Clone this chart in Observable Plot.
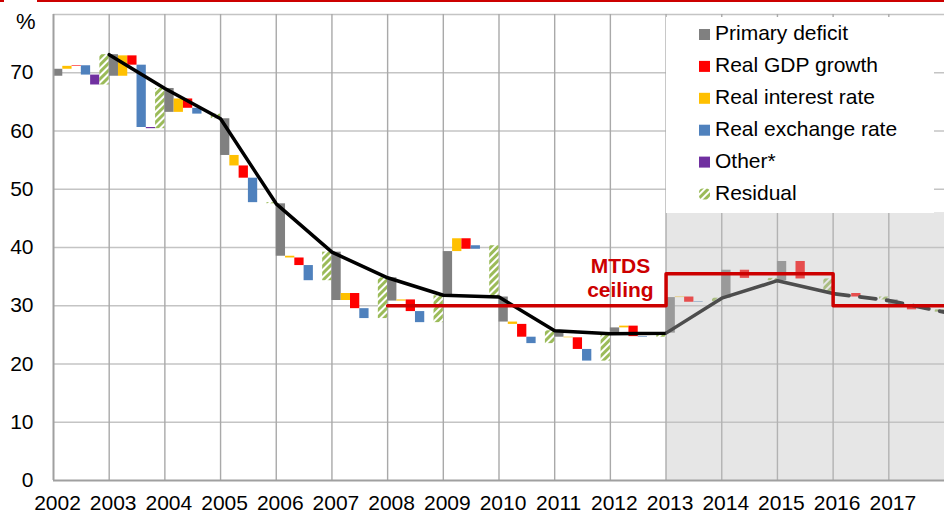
<!DOCTYPE html>
<html><head><meta charset="utf-8">
<script src="https://cdn.jsdelivr.net/npm/d3@7"></script>
<script src="https://cdn.jsdelivr.net/npm/@observablehq/plot@0.6"></script>
<style>
body{margin:0;background:#fff;font-family:"Liberation Sans",Arial,sans-serif;}
#wrap{position:relative;width:944px;height:513px;overflow:hidden;background:#fff;}
#topline{position:absolute;left:37px;top:0;width:907px;height:2px;background:#cc0000;}
#topline2{position:absolute;left:0;top:0;width:4px;height:2px;background:#cc0000;}
#pct{position:absolute;left:16px;top:9px;font-size:22px;color:#000;}
</style></head><body>
<div id="wrap"><div id="topline"></div><div id="topline2"></div><div id="pct">%</div></div>
<script>
// ---- data ----
const years = [2002,2003,2004,2005,2006,2007,2008,2009,2010,2011,2012,2013,2014,2015,2016,2017];
const barStart       = [69.4,73.1,67.3,62.1,47.5,39.2,34.8,31.7,31.5,25.7,25.2,25.3,31.3,34.3,32.1,31.0];
const primaryDeficit = [1.2,-3.7,-4.1,-6.3,-9.0,-8.3,-4.0,7.6,-4.3,-1.1,1.0,6.1,4.8,3.3,0,-0.8];
const realInterest   = [0.5,3.5,2.3,-1.8,-0.3,1.2,0.2,2.2,-0.4,-0.1,0.3,0.1,0,0,0,0];
const realGDP        = [0.1,-1.6,-1.6,-2.1,-1.3,-2.6,-2.0,-1.8,-2.2,-2.0,-1.8,-0.9,-1.4,-3.0,-0.6,-0.9];
const realFX         = [-1.6,-10.7,-1.0,-4.2,-2.6,-1.7,-1.9,0.6,-1.1,-2.0,-0.1,0.1,0,0,0,0];
const other          = [-1.7,-0.2,0,0,0,0,0,0,0,0,0,0,0,0,0,0];
const residual       = [5.2,6.9,-0.8,-0.2,4.9,7.0,4.6,-8.8,2.2,4.6,0.7,0.6,-0.4,-2.5,-0.5,-0.4];

const debtYears  = [2003,2004,2005,2006,2007,2008,2009,2010,2011,2012,2013,2014,2015,2016];
const debtValues = [73.1,67.3,62.1,47.5,39.2,34.8,31.8,31.5,25.7,25.2,25.3,31.3,34.3,32.1];
const projYears  = [2016,2017,2018];
const projValues = [32.1,30.9,28.9];

const mtdsYears  = [2008,2013,2016,2018];
const mtdsValues = [30,35.5,30,30];
const mtdsLabel  = [{year:2012.18, value:34.9, text:"MTDS\nceiling"}];
const shaded     = [{from:2013, to:2018, top:46}];

const yTicks = [0,10,20,30,40,50,60,70];
const gridY  = [10,20,30,40,50,60,70,80];
const gridX  = [2003,2004,2005,2006,2007,2008,2009,2010,2011,2012,2013,2014,2015,2016,2017];

const seriesNames  = ["Primary deficit","Real interest rate","Real GDP growth","Real exchange rate","Other*","Residual"];
const seriesColors = ["#808080","#ffc000","#ff0000","#4f81bd","#7030a0","url(#hatch)"];
const legendOrder  = [0,2,1,3,4,5];

// ---- build waterfall table ----
const seriesVals = [primaryDeficit, realInterest, realGDP, realFX, other, residual];
const bars = [];
years.forEach((yr, i) => {
  let level = barStart[i];
  seriesVals.forEach((arr, k) => {
    const v = arr[i];
    if (Math.abs(v) > 0.01) {
      bars.push({x1: yr + k/6, x2: yr + (k+1)/6, y1: level, y2: level + v, fill: seriesColors[k]});
    }
    level += v;
  });
});
const debt = debtYears.map((y,i)=>({x:y, y:debtValues[i]}));
const proj = projYears.map((y,i)=>({x:y, y:projValues[i]}));
const mtds = mtdsYears.map((y,i)=>({x:y, y:mtdsValues[i]}));

const chart = Plot.plot({
  width: 944, height: 513,
  marginLeft: 53, marginRight: 0, marginTop: 14, marginBottom: 33,
  style: {fontFamily: '"Liberation Sans", Arial, sans-serif', color: "#000", background: "transparent", overflow: "visible"},
  x: {domain: [2002, 2018]},
  y: {domain: [0, 80]},
  color: {type: "identity"},
  marks: [
    Plot.ruleY(gridY, {stroke: "#c4c4c4", strokeWidth: 1.4}),
    Plot.ruleX(gridX, {stroke: "#a9a9a9", strokeWidth: 1.4}),
    Plot.rect(bars, {x1: "x1", x2: "x2", y1: "y1", y2: "y2", fill: "fill", inset: 0}),
    Plot.line(debt, {x: "x", y: "y", stroke: "#000", strokeWidth: 3.5, strokeLinejoin: "round"}),
    Plot.line(proj, {x: "x", y: "y", stroke: "#000", strokeWidth: 3.8, strokeDasharray: "16,11"}),
    Plot.rect(shaded, {x1: "from", x2: "to", y1: 0, y2: "top", fill: "#c0c0c0", fillOpacity: 0.4}),
    Plot.ruleX([2002], {stroke: "#a0a0a0", strokeWidth: 2}),
    Plot.ruleY([0], {stroke: "#a0a0a0", strokeWidth: 2}),
    Plot.line(mtds, {x: "x", y: "y", curve: "step-after", stroke: "#cc0000", strokeWidth: 3.5}),
    Plot.text(mtdsLabel, {x: "year", y: "value", text: "text", fill: "#cc0000", fontWeight: "bold", fontSize: 21, lineHeight: 1.14}),
    Plot.axisX(years, {tickSize: 0, tickPadding: 15, tickFormat: d => String(d), fontSize: 21, dx: 4, label: null}),
    Plot.axisY(yTicks, {tickSize: 0, tickPadding: 20, fontSize: 21, label: null})
  ]
});

function addHatch(sel, id) {
  const p = sel.append("pattern").attr("id", id).attr("patternUnits", "userSpaceOnUse")
    .attr("width", 5).attr("height", 5).attr("patternTransform", "rotate(45)");
  p.append("rect").attr("width", 5).attr("height", 5).attr("fill", "#fff");
  p.append("rect").attr("width", 3).attr("height", 5).attr("fill", "#9bbb59");
}
addHatch(d3.select(chart).insert("defs", ":first-child"), "hatch");

const wrap = document.getElementById("wrap");
chart.style.position = "absolute";
chart.style.left = "0px";
chart.style.top = "0px";
wrap.insertBefore(chart, wrap.firstChild);

// legend overlay
const lg = d3.select(wrap).append("svg").attr("width", 268).attr("height", 196)
  .style("position", "absolute").style("left", "666px").style("top", "17px");
addHatch(lg.append("defs"), "hatchL");
lg.append("rect").attr("width", 268).attr("height", 196).attr("fill", "#fff");
legendOrder.forEach((k, j) => {
  const base = 23 + j * 31.9;
  const c = seriesColors[k] === "url(#hatch)" ? "url(#hatchL)" : seriesColors[k];
  lg.append("rect").attr("x", 33).attr("y", base - 11).attr("width", 11).attr("height", 11)
    .attr("rx", k === 5 ? 4 : 0).attr("fill", c);
  lg.append("text").attr("x", 49).attr("y", base).attr("font-size", 21)
    .attr("font-family", '"Liberation Sans", Arial, sans-serif').attr("fill", "#000").text(seriesNames[k]);
});
</script></body></html>
